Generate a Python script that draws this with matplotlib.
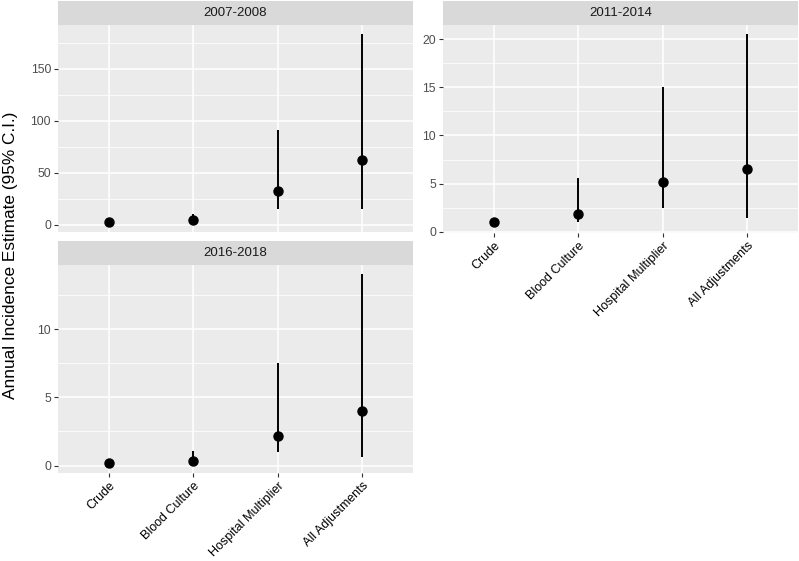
import matplotlib.pyplot as plt
import numpy as np

plt.rcParams['font.family'] = ['Liberation Sans', 'DejaVu Sans']

# estimates
methods = ['Crude', 'Blood Culture', 'Hospital Multiplier', 'All Adjustments']
periods = ['2007-2008', '2011-2014', '2016-2018']

est_0708 = [2.9, 4.5, 32.6, 62.0]
lo_0708 = [2.2, 2.5, 15.7, 15.7]
hi_0708 = [3.6, 10.0, 91.0, 183.0]

est_1114 = [1.03, 1.89, 5.15, 6.53]
lo_1114 = [0.85, 1.0, 2.5, 1.44]
hi_1114 = [1.25, 5.6, 15.0, 20.5]

est_1618 = [0.2, 0.31, 2.19, 4.0]
lo_1618 = [0.15, 0.15, 0.97, 0.63]
hi_1618 = [0.26, 1.1, 7.5, 14.0]

yticks_0708 = [0, 50, 100, 150]
yticks_1114 = [0, 5, 10, 15, 20]
yticks_1618 = [0, 5, 10]

W, H = 799, 561
fig = plt.figure(figsize=(W / 100, H / 100), dpi=100)

panel_bg = '#EBEBEB'
strip_bg = '#D9D9D9'


def box(x0, y0, x1, y1):
    # pixel box (top-down) -> figure fraction
    return [x0 / W, 1 - y1 / H, (x1 - x0) / W, (y1 - y0) / H]


def facet(pbox, sbox, title, est, lo, hi, yticks, show_x):
    ax = fig.add_axes(box(*pbox))
    ax.set_facecolor(panel_bg)
    x = np.arange(1, 5)

    major = yticks
    step = major[1] - major[0]
    minor = [t + step / 2 for t in [major[0] - step] + major]
    ax.set_yticks(major)
    ax.set_yticks(minor, minor=True)
    ax.set_xticks(x)

    # ggplot style 5% expansion, set after ticks so they don't widen it
    lo_all = min(lo + est)
    hi_all = max(hi + est)
    pad = (hi_all - lo_all) * 0.05
    ax.set_ylim(lo_all - pad, hi_all + pad)
    ax.set_xlim(0.4, 4.6)

    ax.grid(True, which='major', color='white', linewidth=1.1)
    ax.grid(True, which='minor', axis='y', color='white', linewidth=0.55)
    ax.set_axisbelow(True)
    for s in ax.spines.values():
        s.set_visible(False)

    ax.vlines(x, lo, hi, color='black', linewidth=1.4, zorder=3)
    ax.plot(x, est, 'o', color='black', markersize=6.5, zorder=4)

    ax.tick_params(axis='y', which='major', length=3, color='#333333', width=0.8,
                   labelsize=8.7, labelcolor='#4D4D4D', pad=2)
    ax.tick_params(axis='y', which='minor', length=0)
    if show_x:
        ax.set_xticklabels(methods, rotation=45, ha='right', va='top',
                           rotation_mode='anchor', fontsize=9, color='black')
        ax.tick_params(axis='x', length=3, color='#333333', width=0.8, pad=2)
    else:
        ax.set_xticklabels([])
        ax.tick_params(axis='x', length=0)

    sax = fig.add_axes(box(*sbox))
    sax.set_facecolor(strip_bg)
    sax.set_xticks([])
    sax.set_yticks([])
    for s in sax.spines.values():
        s.set_visible(False)
    sax.text(0.5, 0.5, title, ha='center', va='center', fontsize=9.5,
             color='#1A1A1A', transform=sax.transAxes)
    return ax


facet((58, 25, 413, 232), (58, 1, 413, 25), periods[0],
      est_0708, lo_0708, hi_0708, yticks_0708, False)
facet((443, 25, 798, 233), (443, 1, 798, 25), periods[1],
      est_1114, lo_1114, hi_1114, yticks_1114, True)
facet((58, 265, 413, 473), (58, 241, 413, 265), periods[2],
      est_1618, lo_1618, hi_1618, yticks_1618, True)

fig.text(11 / W, 1 - 255 / H, 'Annual Incidence Estimate (95% C.I.)',
         rotation=90, ha='center', va='center', fontsize=12.4, color='black')

fig.savefig('out.png', dpi=100)
